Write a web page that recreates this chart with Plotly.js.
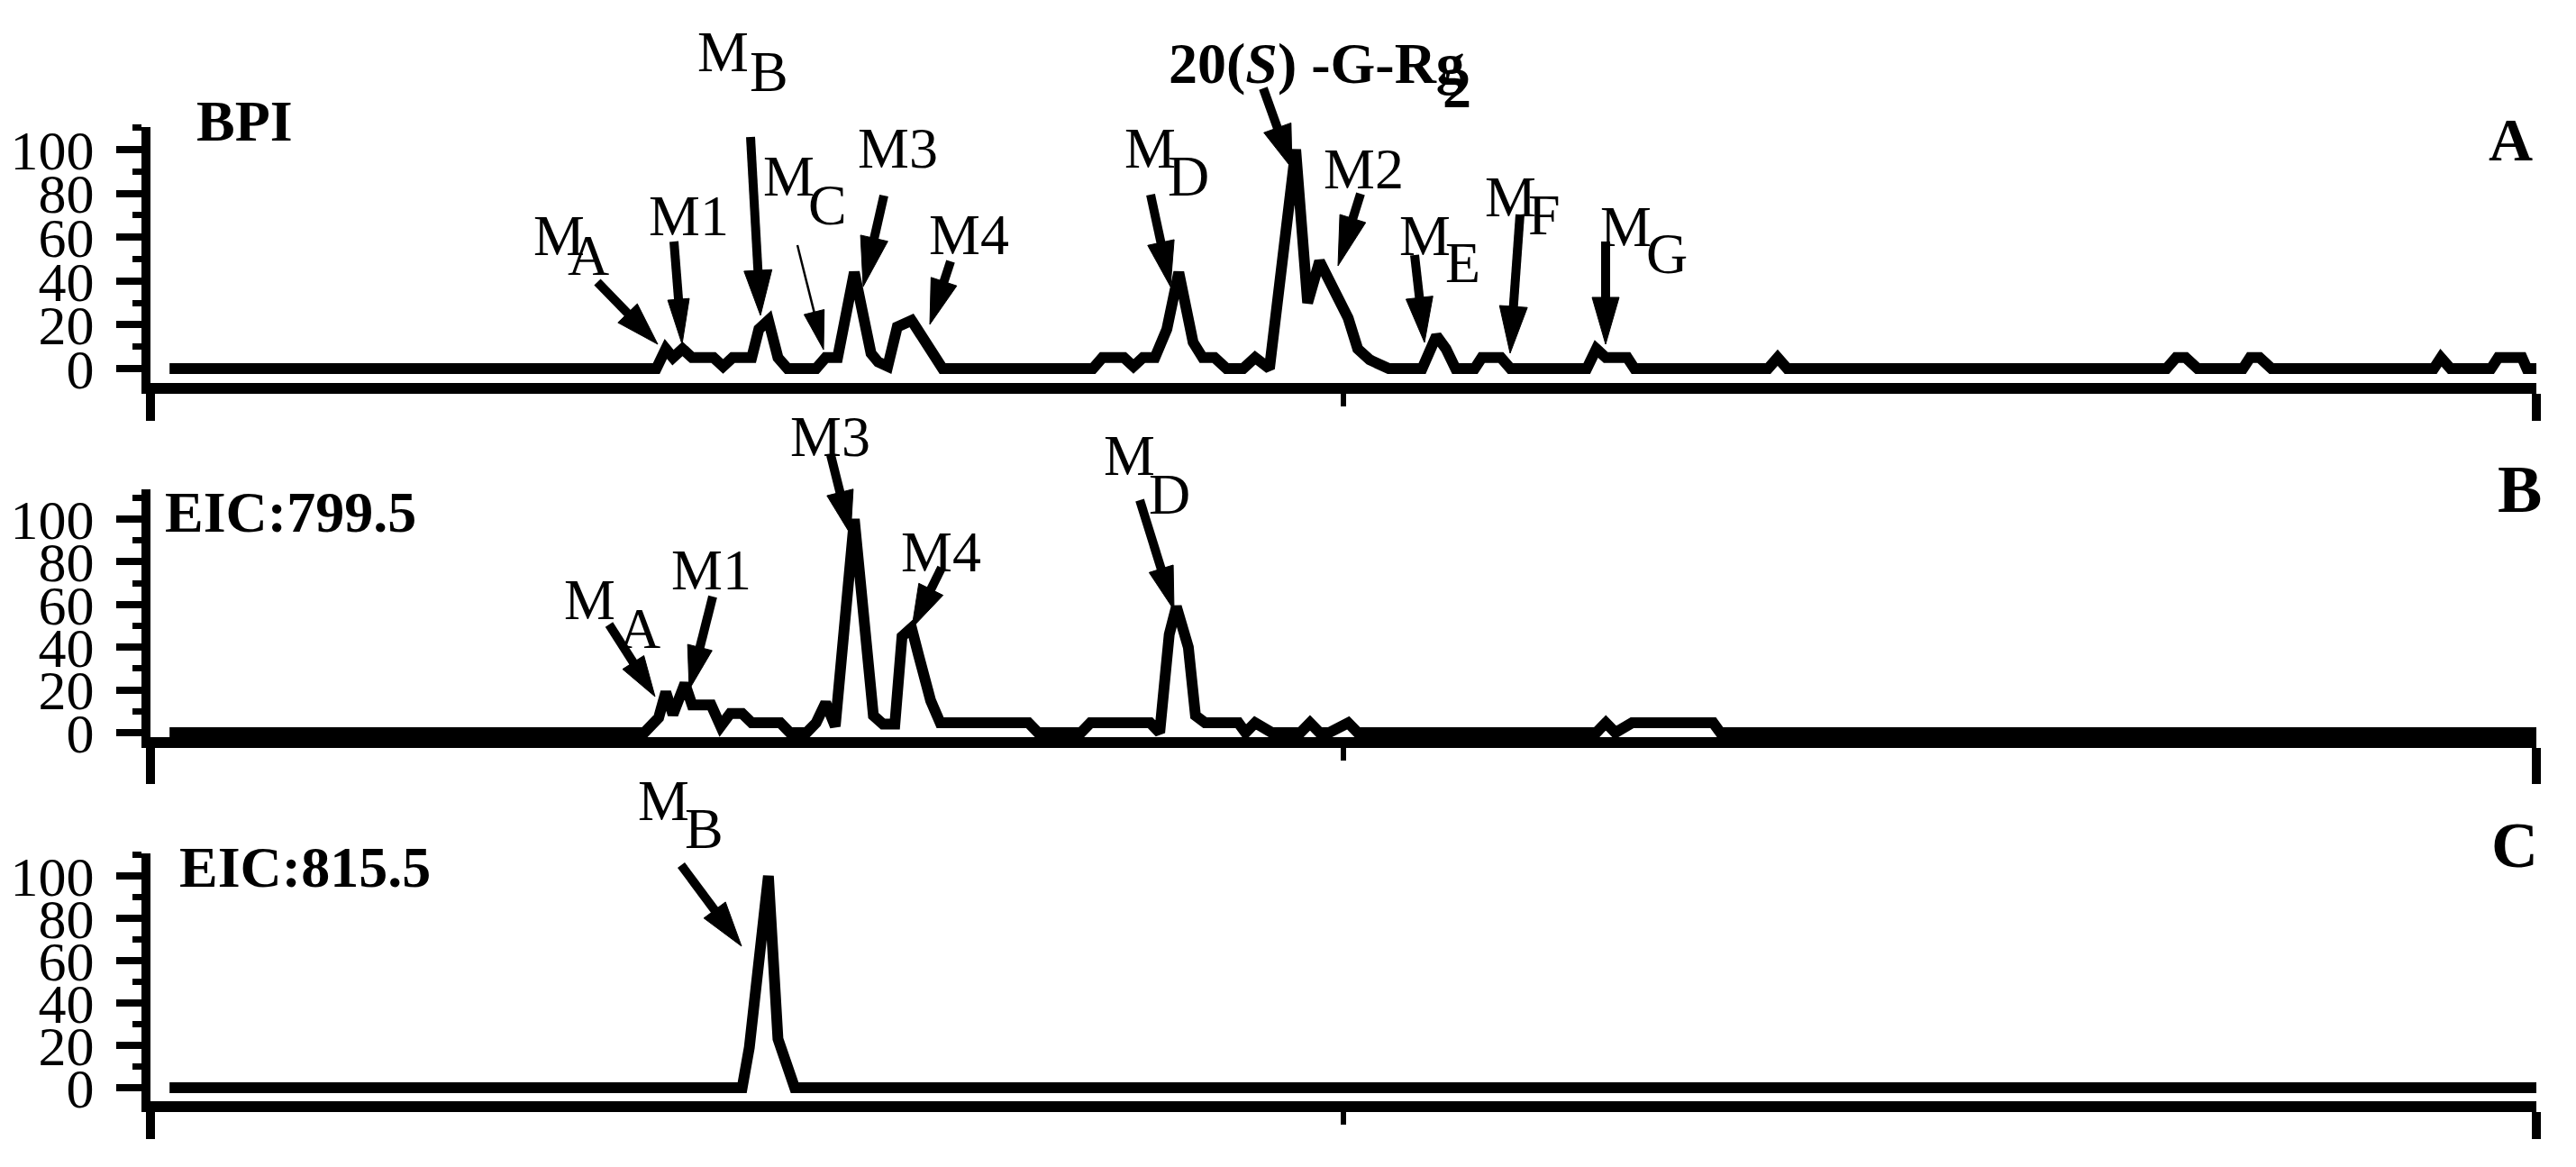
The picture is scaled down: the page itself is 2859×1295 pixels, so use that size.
<!DOCTYPE html>
<html><head><meta charset="utf-8">
<script src="https://cdn.plot.ly/plotly-3.0.1.min.js"></script>
<style>html,body{margin:0;padding:0;background:#fff;overflow:hidden;}</style>
</head><body><div id="chart" style="width:2859px;height:1295px;"></div>
<script>
// ---- data (retention axis in % of run, relative intensity %) ----
const bpiTime = [0.8,21.2,21.6,21.9,22.3,22.7,23.6,24.0,24.4,25.2,25.5,25.9,26.3,26.7,27.9,28.3,28.8,29.5,30.2,30.5,30.9,31.3,31.9,32.9,33.2,39.5,39.9,40.8,41.2,41.6,42.1,42.6,43.1,43.7,44.1,44.6,45.1,45.8,46.3,46.9,48.0,48.5,49.0,50.2,50.6,51.1,51.9,53.3,53.9,54.3,54.7,55.5,55.8,56.6,57.0,60.2,60.6,61.0,61.9,62.2,67.8,68.2,68.6,84.5,84.9,85.3,85.8,87.7,88.0,88.4,88.9,95.7,96.0,96.4,98.1,98.4,99.4,99.6,100];
const bpiIntensity = [0,0,9,5,9,5,5,1,5,5,18,22,5,0,0,5,5,44,7,3,1,19,22,4,0,0,5,5,1,5,5,18,44,12,5,5,0,0,5,0,100,30,49,23,9,4,0,0,15,9,0,0,5,5,0,0,9,5,5,0,0,5,0,0,5,5,0,0,5,5,0,0,5,0,0,5,5,0,0];

const eic799Time = [0.8,20.7,21.3,21.6,21.9,22.4,22.7,23.5,23.9,24.3,24.8,25.2,26.4,26.8,27.5,27.9,28.3,28.7,29.5,30.3,30.7,31.2,31.5,31.9,32.2,32.7,33.1,36.8,37.2,39.0,39.4,41.9,42.3,42.7,43.0,43.5,43.8,44.2,45.6,45.9,46.3,47.0,48.2,48.6,49.0,49.4,50.2,50.6,60.6,61.0,61.4,62.1,65.5,65.8,100];
const eic799Intensity = [0,0,7,19,8.5,23,13,13,3,9,9,4.6,4.6,0,0,4.6,14,3,100,8,4,4,45,49,36,15,4.6,4.6,0,0,4.6,4.6,0,46,59,40,8,4.6,4.6,0,4.6,0,0,4.6,0,0,4.6,0,0,4.6,0,4.6,4.6,0,0];

const eic815Time = [0.8,24.8,25.1,25.9,26.3,26.8,27.0,100];
const eic815Intensity = [0,0,19,100,23,6,0,0];

const yTickValues = [0,20,40,60,80,100];
const yTickLabels = ['0','20','40','60','80','100'];

// ---- layout geometry (pixels of the 2859x1295 canvas) ----
const W = 2859, H = 1295, L = 167, R = 2815;
const FONT = 'Liberation Serif';

function yAxis(zeroPx, hundredPx, topPx, bottomPx) {
  const k = (zeroPx - hundredPx) / 100;
  return {
    domain: [1 - bottomPx / H, 1 - topPx / H],
    range: [(zeroPx - bottomPx) / k, (zeroPx - topPx) / k],
    showline: true, linewidth: 10, linecolor: '#000',
    ticks: 'outside', ticklen: 28, tickwidth: 8, tickcolor: '#000',
    tickmode: 'array', tickvals: yTickValues, ticktext: yTickLabels,
    ticklabelstandoff: 12,
    tickfont: {family: FONT, size: 62, color: '#000'},
    minor: {tick0: 0, dtick: 10, ticks: 'outside', ticklen: 10, tickwidth: 7, tickcolor: '#000'},
    showgrid: false, zeroline: false, fixedrange: true
  };
}
function xAxis(anchor, endLen) {
  return {
    domain: [0, 1], range: [0, 100], anchor: anchor,
    showline: true, linewidth: 12, linecolor: '#000',
    ticks: 'outside', tickmode: 'array', tickvals: [0, 100],
    ticklen: endLen, tickwidth: 10, tickcolor: '#000', showticklabels: false,
    minor: {tick0: 0, dtick: 50, ticks: 'outside', ticklen: 14, tickwidth: 6, tickcolor: '#000'},
    showgrid: false, zeroline: false, fixedrange: true
  };
}

const lineStyle = {color: '#000', width: 12};
const traces = [
  {x: bpiTime, y: bpiIntensity, xaxis: 'x', yaxis: 'y', mode: 'lines', line: lineStyle, hoverinfo: 'skip'},
  {x: eic799Time, y: eic799Intensity, xaxis: 'x2', yaxis: 'y2', mode: 'lines', line: lineStyle, hoverinfo: 'skip'},
  {x: eic815Time, y: eic815Intensity, xaxis: 'x3', yaxis: 'y3', mode: 'lines', line: lineStyle, hoverinfo: 'skip'}
];

// ---- annotation texts (pixel centres, optional font size) ----
const labels = [
  ['<b>BPI</b>', 271, 134],
  ['M', 802, 58], ['B', 853, 80],
  ['M', 620, 261], ['A', 653, 283],
  ['M1', 764, 240],
  ['M', 875, 195], ['C', 918, 227],
  ['M3', 996, 165],
  ['M4', 1075, 260],
  ['M', 1276, 165], ['D', 1319, 195],
  ['<b>20(<i>S</i>) -G-Rg</b>', 1461, 70], ['<b>2</b>', 1617, 97],
  ['M2', 1513, 187],
  ['M', 1581, 261], ['E', 1623, 292],
  ['M', 1676, 218], ['F', 1714, 239],
  ['M', 1804, 251], ['G', 1850, 281],
  ['<b>A</b>', 2786, 155, 68],
  ['<b>EIC:799.5</b>', 322, 569],
  ['M', 654, 665], ['A', 710, 697],
  ['M1', 789, 632],
  ['M3', 921, 484],
  ['M4', 1044, 612],
  ['M', 1253, 505], ['D', 1298, 548],
  ['<b>B</b>', 2796, 543, 74],
  ['<b>EIC:815.5</b>', 338, 962],
  ['M', 736, 888], ['B', 781, 919],
  ['<b>C</b>', 2791, 938, 72]
];

// ---- arrows: tail x,y, tip x,y, shaft width, head length, head width (pixels) ----
const arrows = [
  [663,313, 730,382, 10, 48, 30],
  [748,268, 757,382, 10, 50, 24],
  [833,152, 844,350, 10, 50, 31],
  [885,272, 914,388, 2.5, 43, 23],
  [981,217, 958,318, 10, 55, 31],
  [1055,290, 1032,360, 10, 50, 30],
  [1277,216, 1299,318, 10, 50, 30],
  [1402,98, 1434,187, 10, 48, 32],
  [1510,215, 1485,295, 10, 55, 30],
  [1570,283, 1581,380, 10, 50, 30],
  [1687,238, 1676,392, 10, 52, 31],
  [1782,268, 1782,382, 10, 52, 30],
  [676,693, 727,773, 10, 45, 28],
  [791,662, 765,765, 10, 48, 28],
  [922,505, 944,593, 10, 48, 30],
  [1045,630, 1012,697, 10, 48, 30],
  [1265,555, 1303,677, 10, 48, 28],
  [756,960, 823,1050, 10, 50, 30]
];

const px = x => (x - L) / (R - L);
const py = y => 1 - y / H;

const annotations = labels.map(([t, cx, cy, sz]) => ({
  text: t, x: px(cx), y: py(cy), xref: 'paper', yref: 'paper',
  xanchor: 'center', yanchor: 'middle', showarrow: false,
  font: {family: FONT, size: sz || 64, color: '#000'}
}));

const shapes = [];
arrows.forEach(([tx, ty, hx, hy, sw, hl, hw]) => {
  const len = Math.hypot(hx - tx, hy - ty);
  const dx = (hx - tx) / len, dy = (hy - ty) / len;
  const bx = hx - dx * hl, by = hy - dy * hl;
  const nx = -dy, ny = dx;
  shapes.push({type: 'line', xref: 'paper', yref: 'paper',
    x0: px(tx), y0: py(ty), x1: px(bx + dx * 6), y1: py(by + dy * 6),
    line: {color: '#000', width: sw}});
  const p1 = [hx, hy], p2 = [bx + nx * hw / 2, by + ny * hw / 2], p3 = [bx - nx * hw / 2, by - ny * hw / 2];
  shapes.push({type: 'path', xref: 'paper', yref: 'paper',
    path: 'M' + px(p1[0]) + ',' + py(p1[1]) + ' L' + px(p2[0]) + ',' + py(p2[1]) + ' L' + px(p3[0]) + ',' + py(p3[1]) + ' Z',
    fillcolor: '#000', line: {color: '#000', width: 1}});
});

const layout = {
  width: W, height: H,
  margin: {l: L, r: W - R, t: 0, b: 0},
  paper_bgcolor: '#fff', plot_bgcolor: 'rgba(0,0,0,0)',
  showlegend: false,
  xaxis: xAxis('y', 30),
  yaxis: yAxis(409, 166, 141, 425),
  xaxis2: xAxis('y2', 40),
  yaxis2: yAxis(813, 576, 543, 818),
  xaxis3: xAxis('y3', 30),
  yaxis3: yAxis(1207, 972, 947, 1222),
  annotations: annotations,
  shapes: shapes
};

Plotly.newPlot('chart', traces, layout, {displayModeBar: false, staticPlot: true});
</script>
</body></html>
